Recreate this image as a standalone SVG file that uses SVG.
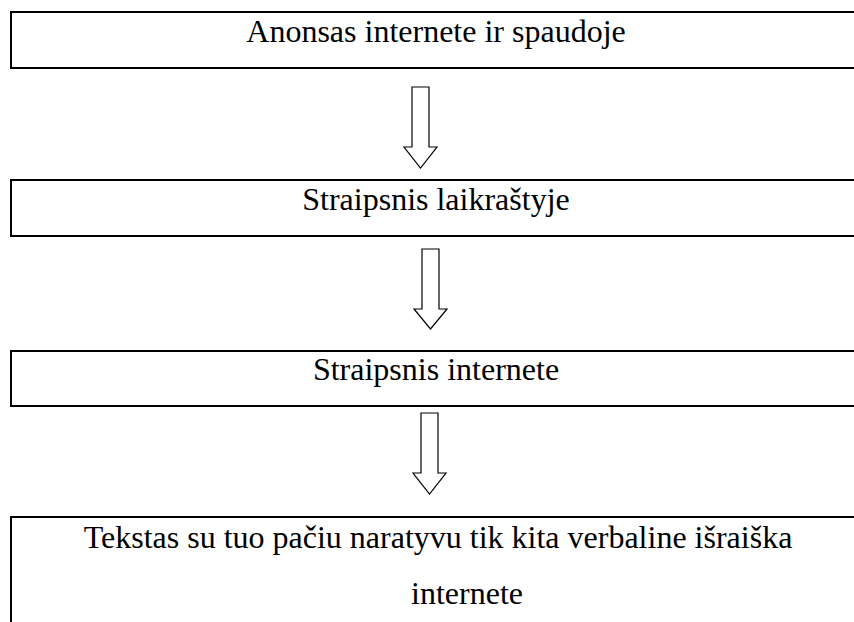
<svg xmlns="http://www.w3.org/2000/svg" width="854" height="622" viewBox="0 0 854 622">
<style>
.box{fill:#fff;stroke:#000;stroke-width:2}
.lbl{font-family:"Liberation Serif","Times New Roman",serif;font-size:32px;fill:#000;text-anchor:middle}
.arr{fill:#fff;stroke:#000;stroke-width:1.2;stroke-linejoin:miter}
</style>
<rect width="854" height="622" fill="#fff"/>
<g id="connectors">
<polygon class="arr" points="412,87 429,87 429,147 437,147 420.5,168 404,147 412,147"/>
<polygon class="arr" points="422,249 439,249 439,309 447,309 430.5,329 414,309 422,309"/>
<polygon class="arr" points="421,413 438,413 438,473 446,473 429.5,494 413,473 421,473"/>
</g>
<g id="node1">
<rect class="box" x="11" y="12" width="860" height="56"/>
<text class="lbl" x="436" y="42">Anonsas internete ir spaudoje</text>
</g>
<g id="node2">
<rect class="box" x="11" y="180" width="860" height="56"/>
<text class="lbl" x="436" y="210">Straipsnis laikraštyje</text>
</g>
<g id="node3">
<rect class="box" x="11" y="351" width="860" height="55"/>
<text class="lbl" x="436" y="380">Straipsnis internete</text>
</g>
<g id="node4">
<rect class="box" x="11" y="517" width="860" height="130"/>
<text class="lbl" x="438" y="548">Tekstas su tuo pačiu naratyvu tik kita verbaline išraiška</text>
<text class="lbl" x="467" y="604">internete</text>
</g>
</svg>
